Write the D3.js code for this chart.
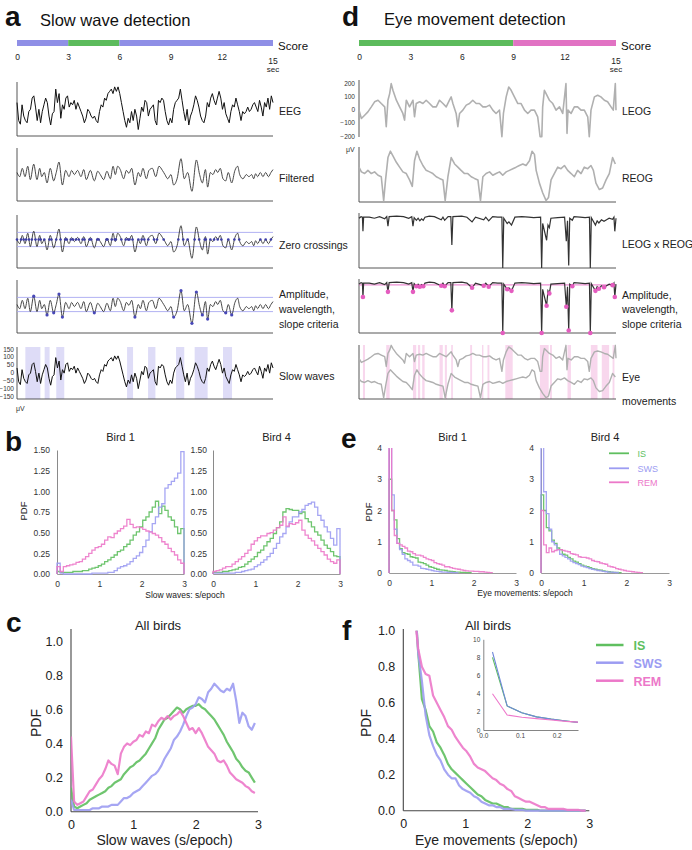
<!DOCTYPE html>
<html>
<head>
<meta charset="utf-8">
<script src="https://cdn.jsdelivr.net/npm/d3@7"></script>
<style>
  body { margin: 0; background: #fff; }
  svg text { font-family: "Liberation Sans", Arial, Helvetica, sans-serif; }
</style>
</head>
<body>
<script>
// ---------- data ----------
const timeTicks = [0, 3, 6, 9, 12, 15];
const scoreA = [{ from: 0, to: 3, stage: "SWS" }, { from: 3, to: 6, stage: "IS" }, { from: 6, to: 15, stage: "SWS" }];
const scoreD = [{ from: 0, to: 9, stage: "IS" }, { from: 9, to: 15, stage: "REM" }];

// raw EEG (uV), evenly spaced over 15 s
const eeg = [29,-59,-77,18,-37,-59,-70,-15,-4,51,62,7,-59,-4,-70,-15,18,51,29,-37,
  -81,-26,-15,95,29,73,-48,18,-4,51,62,7,29,18,40,-4,29,7,-15,-37,
  -70,-48,-4,-15,-37,-48,-37,-59,-70,-15,18,7,51,40,73,84,95,73,106,84,
  106,73,29,-15,-59,-92,-48,-70,-15,-59,-4,-37,-103,-48,7,-15,40,29,-37,-4,
  7,18,-59,-81,40,29,51,40,-15,-59,-81,-48,-70,-4,29,40,51,95,40,-15,
  -59,-4,-81,-37,-15,18,62,40,7,-37,-59,-70,-37,29,7,51,73,40,18,51,
  84,51,-4,29,-26,-48,-70,-15,18,7,51,18,-15,-59,-15,-26,-15,7,-15,-4,
  18,29,7,-15,40,7,-37,29,7,51,-4,62,29];

// filtered EEG: turning points (s, uV)
const filtT = [0.00,0.16,0.31,0.47,0.63,0.78,0.98,1.17,1.33,1.45,1.60,1.76,1.95,2.15,2.30,2.46,2.66,2.85,3.05,3.20,
  3.36,3.55,3.75,3.91,4.06,4.30,4.53,4.73,4.88,5.08,5.27,5.47,5.63,5.76,5.90,6.05,6.25,6.41,6.56,6.72,
  6.91,7.11,7.23,7.38,7.58,7.73,7.93,8.13,8.32,8.52,8.67,8.83,9.02,9.18,9.38,9.61,9.80,10.00,10.25,10.51,
  10.70,10.86,11.04,11.17,11.33,11.48,11.64,11.76,11.91,12.07,12.23,12.38,12.58,12.77,12.93,13.05,13.24,13.44,13.59,13.75,
  13.87,13.98,14.10,14.26,14.41,14.57,14.73,14.88,15.00];
const filtV = [0,-20,20,-20,30,-34,40,-34,20,-20,0,-50,20,-40,0,50,-60,10,-20,10,
  -10,10,-20,14,-34,10,-40,6,-10,-34,6,-30,30,-10,30,14,-30,10,-4,20,
  -60,0,-20,20,-30,10,20,-20,30,10,-10,-30,-10,-60,-30,66,-30,0,-90,60,
  -10,-50,14,-70,0,-10,14,0,20,-30,-40,0,-50,10,30,-10,-30,-10,-20,-10,
  -30,-6,-20,0,-20,0,-20,0,14];
const swThresh = 34;
const slowWaveBands = [[0.49,1.37],[1.62,1.91],[2.30,2.77],[6.45,6.80],[7.68,8.11],[9.32,9.80],[10.41,11.17],[12.07,12.60]];

// EOG traces (s, uV)
const leogT = [0.00,0.14,0.33,0.52,0.72,0.91,1.11,1.30,1.50,1.59,1.69,1.79,1.88,1.98,2.18,2.37,2.56,2.66,2.76,2.95,
  3.15,3.24,3.34,3.54,3.73,3.92,4.12,4.31,4.51,4.70,4.90,5.09,5.28,5.38,5.48,5.67,5.77,5.87,6.06,6.26,
  6.45,6.64,6.84,7.03,7.23,7.42,7.62,7.81,8.00,8.20,8.34,8.43,8.59,8.74,8.88,9.07,9.27,9.46,9.66,9.85,
  10.04,10.24,10.43,10.57,10.67,10.72,10.82,10.92,11.11,11.31,11.50,11.70,11.89,12.08,12.14,12.20,12.38,12.57,12.76,12.96,
  13.15,13.35,13.44,13.54,13.74,13.93,14.12,14.32,14.51,14.71,14.84,14.96,15.00];
const leogV = [-5,-68,-43,-18,20,58,70,45,20,-130,70,120,195,145,70,20,-30,-80,70,20,
  70,-55,45,58,45,70,45,20,20,70,45,20,70,95,45,-30,-130,-30,-5,33,
  45,70,45,45,20,20,33,-5,-30,-5,-205,-30,95,170,145,95,45,45,-5,-30,
  -5,-5,-55,-205,-205,20,145,120,70,45,-5,20,-30,195,-180,-5,-30,20,20,-5,
  -5,-55,-205,-5,95,108,95,70,58,20,-5,195,-5];
const reogT = [0.00,0.14,0.33,0.52,0.72,0.91,1.11,1.30,1.44,1.55,1.69,1.83,1.98,2.18,2.37,2.56,2.76,2.95,3.11,3.24,
  3.38,3.54,3.73,3.92,4.12,4.31,4.51,4.70,4.90,5.03,5.19,5.38,5.58,5.77,5.96,6.16,6.35,6.55,6.74,6.94,
  7.09,7.23,7.42,7.62,7.81,8.00,8.20,8.39,8.59,8.78,8.98,9.17,9.36,9.56,9.75,9.95,10.10,10.24,10.34,10.53,
  10.72,10.92,11.06,11.21,11.40,11.60,11.79,11.99,12.18,12.38,12.57,12.76,12.96,13.15,13.35,13.54,13.68,13.83,14.03,14.22,
  14.42,14.61,14.80,14.96];
const reogV = [50,13,0,25,0,13,-13,-25,-212,-50,125,175,138,88,50,13,0,-50,-100,100,
  175,113,63,25,13,0,-25,-38,-50,-212,-25,125,75,50,25,0,0,-25,-38,-50,
  -212,-25,0,13,-13,0,13,-13,13,25,38,50,63,75,63,100,175,150,25,-75,
  -150,-212,-188,-50,0,50,38,63,25,0,-25,25,0,50,38,63,25,-75,-125,-113,
  -50,0,125,75];
// LEOG x REOG (normalised, 0 = no co-deflection)
const prodT = [0.00,0.12,0.20,0.23,0.27,0.60,0.90,1.20,1.50,1.62,1.69,1.76,2.20,2.60,2.90,3.08,3.15,3.22,3.35,3.45,
  3.55,3.65,3.75,3.85,4.10,4.40,4.80,4.90,5.00,5.20,5.36,5.42,5.48,6.00,6.30,6.60,6.80,7.28,7.40,7.57,
  7.80,8.10,8.34,8.39,8.45,8.65,8.75,8.90,9.10,9.50,9.90,10.20,10.60,10.66,10.72,10.95,11.03,11.11,11.20,11.60,
  12.00,12.10,12.17,12.24,12.30,12.45,12.55,12.90,13.20,13.45,13.50,13.56,13.80,13.90,14.00,14.15,14.30,14.45,14.60,14.80,
  14.88,14.93,15.00];
const prodV = [-0.05,-0.02,-0.03,-0.30,-0.03,-0.03,-0.05,-0.02,-0.06,-0.02,-0.20,-0.02,-0.01,-0.02,-0.05,-0.02,-0.20,-0.04,-0.09,-0.05,
  -0.10,-0.06,-0.09,-0.03,-0.01,-0.02,-0.08,-0.03,-0.09,-0.02,-0.02,-0.56,-0.02,-0.01,-0.03,-0.12,-0.03,-0.08,-0.03,-0.10,
  -0.02,-0.03,-0.03,-1.00,-0.05,-0.15,-0.12,-0.18,-0.03,-0.02,-0.03,-0.04,-0.03,-1.00,-0.15,-0.47,-0.18,-0.23,-0.05,-0.04,
  -0.03,-0.49,-0.10,-0.95,-0.05,-0.09,-0.02,-0.03,-0.04,-0.03,-1.00,-0.04,-0.18,-0.10,-0.14,-0.08,-0.11,-0.08,-0.05,-0.07,
  -0.03,-0.30,-0.05];
const emThresh = -0.065;
const eyeMoveBands = [[0.23,0.35],[1.59,1.79],[3.15,3.34],[3.44,3.57],[3.69,3.83],[4.70,4.89],[5.01,5.13],[5.38,5.48],
  [6.49,6.60],[7.18,7.26],[7.50,7.61],[8.54,8.97],[10.56,11.07],[11.15,11.26],[12.17,12.37],[13.53,13.92],[14.17,14.60],[14.80,14.91]];

// b: slow waves per epoch histograms, 40 bins of 0.075
const swBinW = 0.075;
const b1IS = [0.03,0.02,0.02,0.02,0.02,0.03,0.03,0.03,0.04,0.04,0.06,0.07,0.08,0.10,0.12,0.15,0.17,0.20,0.23,0.27,
  0.29,0.33,0.36,0.41,0.47,0.51,0.57,0.65,0.69,0.75,0.81,0.88,0.73,0.82,0.77,0.69,0.65,0.57,0.49,0.55];
const b1SWS = [0.13,0.01,0.00,0.00,0.00,0.00,0.00,0.00,0.00,0.00,0.00,0.01,0.01,0.01,0.01,0.01,0.02,0.02,0.04,0.07,
  0.09,0.10,0.12,0.15,0.19,0.22,0.26,0.33,0.41,0.51,0.61,0.69,0.81,0.85,1.04,1.08,1.12,1.16,1.22,1.48];
const b1REM = [0.09,0.03,0.09,0.10,0.11,0.12,0.14,0.15,0.18,0.21,0.25,0.29,0.32,0.33,0.36,0.41,0.45,0.44,0.49,0.52,
  0.55,0.58,0.66,0.60,0.56,0.57,0.56,0.54,0.52,0.51,0.49,0.47,0.44,0.39,0.36,0.31,0.27,0.23,0.17,0.13];
const b4IS = [0.02,0.02,0.02,0.03,0.03,0.04,0.05,0.06,0.08,0.09,0.12,0.15,0.18,0.21,0.26,0.29,0.34,0.39,0.43,0.49,
  0.56,0.63,0.75,0.79,0.78,0.77,0.77,0.73,0.75,0.67,0.63,0.57,0.51,0.47,0.41,0.35,0.31,0.27,0.22,0.21];
const b4SWS = [0.01,0.01,0.01,0.01,0.01,0.01,0.01,0.02,0.02,0.03,0.04,0.05,0.06,0.09,0.11,0.14,0.17,0.21,0.25,0.31,
  0.37,0.45,0.49,0.57,0.63,0.69,0.69,0.75,0.78,0.83,0.85,0.87,0.81,0.71,0.65,0.57,0.51,0.43,0.35,0.55];
const b4REM = [0.03,0.04,0.05,0.07,0.09,0.09,0.12,0.15,0.18,0.21,0.25,0.29,0.36,0.40,0.44,0.46,0.46,0.49,0.50,0.53,
  0.56,0.59,0.69,0.58,0.61,0.60,0.62,0.65,0.53,0.47,0.43,0.40,0.35,0.31,0.27,0.23,0.18,0.15,0.13,0.17];

// e: eye movements per epoch histograms, bins of 0.0625
const emBinW = 0.0625;
const e1IS = [3.0,2.0,1.7,1.1,0.78,0.65,0.62,0.6,0.52,0.5,0.48,0.35,0.33,0.3,0.25,0.2,0.18,0.15,0.12,0.1,
  0.09,0.08,0.06,0.05,0.04,0.03,0.03,0.02,0.02,0.01,0.01];
const e1SWS = [4.5,2.5,1.4,0.95,0.75,0.6,0.45,0.4,0.35,0.25,0.25,0.22,0.15,0.14,0.12,0.1,0.08,0.06,0.05,0.04,
  0.03,0.03,0.02,0.02,0.01,0.01];
const e1REM = [4.5,2.0,1.2,0.95,0.9,0.85,0.8,0.7,0.68,0.62,0.57,0.57,0.55,0.5,0.45,0.43,0.4,0.33,0.3,0.28,
  0.25,0.2,0.2,0.17,0.15,0.13,0.12,0.1,0.08,0.07,0.06,0.06,0.05,0.05,0.04,0.04,0.03,0.02,0.01];
const e4IS = [2.5,2.0,1.45,1.35,1.05,0.95,0.8,0.75,0.6,0.57,0.5,0.45,0.38,0.35,0.3,0.25,0.22,0.2,0.17,0.14,
  0.12,0.1,0.09,0.07,0.05,0.04,0.03,0.02,0.02,0.01];
const e4SWS = [4.5,2.6,1.9,1.4,1.0,0.9,0.75,0.6,0.55,0.5,0.45,0.38,0.33,0.3,0.27,0.22,0.2,0.17,0.14,0.12,
  0.1,0.08,0.07,0.05,0.04,0.03,0.03,0.02,0.01];
const e4REM = [2.0,0.9,0.65,0.8,0.68,0.72,0.75,0.75,0.72,0.7,0.68,0.62,0.6,0.58,0.52,0.5,0.5,0.48,0.45,0.4,
  0.37,0.36,0.32,0.3,0.28,0.22,0.2,0.18,0.14,0.12,0.1,0.08,0.06,0.05,0.04,0.03,0.02,0.01];

// c: all birds, slow waves, x = 0, 0.05, ...
const cStart = 0, cStep = 0.05;
const cIS = [0.14,0.03,0.02,0.03,0.04,0.05,0.07,0.08,0.09,0.10,0.11,0.12,0.14,0.15,0.17,0.18,0.19,0.22,0.24,0.26,
  0.27,0.29,0.30,0.32,0.34,0.37,0.40,0.43,0.48,0.51,0.54,0.55,0.57,0.59,0.61,0.60,0.58,0.60,0.61,0.62,
  0.62,0.63,0.61,0.60,0.58,0.56,0.54,0.51,0.48,0.45,0.41,0.38,0.35,0.31,0.29,0.26,0.24,0.23,0.20,0.17];
const cSWS = [0.07,0.01,0.01,0.01,0.01,0.01,0.01,0.02,0.02,0.02,0.03,0.03,0.03,0.04,0.04,0.04,0.06,0.08,0.08,0.09,
  0.11,0.12,0.13,0.15,0.17,0.19,0.21,0.22,0.24,0.27,0.31,0.34,0.37,0.42,0.44,0.47,0.51,0.56,0.60,0.61,
  0.63,0.67,0.66,0.64,0.70,0.72,0.75,0.73,0.71,0.70,0.72,0.71,0.75,0.65,0.52,0.58,0.56,0.50,0.48,0.52];
const cREM = [0.44,0.06,0.04,0.05,0.06,0.09,0.12,0.13,0.16,0.19,0.21,0.25,0.30,0.28,0.27,0.22,0.34,0.38,0.40,0.39,
  0.41,0.42,0.45,0.44,0.47,0.46,0.51,0.50,0.53,0.55,0.54,0.56,0.54,0.56,0.57,0.59,0.56,0.52,0.48,0.49,
  0.46,0.49,0.46,0.42,0.38,0.36,0.34,0.30,0.29,0.30,0.27,0.23,0.21,0.19,0.18,0.17,0.15,0.14,0.12,0.11];

// f: all birds, eye movements, x = 0.18, 0.24, ...
const fStart = 0.18, fStep = 0.06;
const fIS = [1.2,0.88,0.62,0.56,0.47,0.44,0.38,0.35,0.31,0.26,0.23,0.21,0.19,0.17,0.15,0.13,0.11,0.09,0.08,0.06,
  0.05,0.04,0.04,0.03,0.02,0.02,0.01,0.01,0.01,0.01,0.005,0.005,0.005,0.005,0,0,0,0,0,0,0,0,0,0,0,0,0];
const fSWS = [1.2,0.88,0.72,0.53,0.42,0.36,0.31,0.28,0.23,0.20,0.18,0.18,0.14,0.12,0.11,0.10,0.08,0.07,0.05,0.04,
  0.03,0.03,0.02,0.02,0.01,0.01,0.01,0.005,0.005,0.005,0,0,0,0,0,0,0,0,0,0,0,0,0,0,0,0,0];
const fREM = [1.1,0.90,0.80,0.76,0.75,0.64,0.60,0.56,0.52,0.47,0.45,0.41,0.38,0.35,0.33,0.30,0.26,0.24,0.23,0.22,
  0.20,0.18,0.17,0.15,0.14,0.12,0.11,0.08,0.07,0.06,0.05,0.05,0.04,0.03,0.02,0.02,0.01,0.01,0.01,0.01,
  0.01,0.005,0.005,0.005,0.005,0,0];
// f inset, first bins
const insetX = [0.025,0.065,0.105,0.145,0.185,0.225,0.265];
const insetIS = [8.0,2.65,1.9,1.45,1.2,1.0,0.8];
const insetSWS = [8.6,2.65,1.9,1.45,1.2,1.0,0.8];
const insetREM = [4.0,1.65,1.4,1.25,1.1,0.95,0.85];

const stages = ["IS", "SWS", "REM"];

// ---------- drawing ----------
const colors = { IS: "#5fbf5f", SWS: "#9c9cf2", REM: "#ec78c9" };
const scoreColors = { IS: "#5cbb5c", SWS: "#8f8fe6", REM: "#e172c3" };

const svg = d3.select("body").append("svg").attr("width", 692).attr("height", 850);

function addText(x, y, s, size, anchor = "start", weight = "normal", fill = "#111") {
  return svg.append("text").attr("x", x).attr("y", y).attr("font-size", size)
    .attr("text-anchor", anchor).attr("font-weight", weight).attr("fill", fill).text(s);
}

// panel letters and titles
addText(5, 26, "a", 28, "start", "bold");
addText(40, 26, "Slow wave detection", 16.5);
addText(342, 26, "d", 28, "start", "bold");
addText(384, 25, "Eye movement detection", 16.5);
addText(5, 451, "b", 28, "start", "bold");
addText(341, 448, "e", 28, "start", "bold");
addText(6, 632, "c", 28, "start", "bold");
addText(342, 640, "f", 28, "start", "bold");

const aX = d3.scaleLinear().domain([0, 15]).range([17, 273]);
const dX = d3.scaleLinear().domain([0, 15]).range([359, 616]);

function scoreBar(x, segs) {
  svg.append("g").selectAll("rect").data(segs).join("rect")
    .attr("x", d => x(d.from)).attr("width", d => x(d.to) - x(d.from))
    .attr("y", 40).attr("height", 6).attr("fill", d => scoreColors[d.stage]);
  addText(x.range()[1] + 5, 49.5, "Score", 11.5);
  const ax = svg.append("g").attr("transform", "translate(0,50.5)")
    .call(d3.axisBottom(x).tickValues(timeTicks.filter(t => t < 15)).tickSize(0).tickPadding(3));
  ax.select(".domain").remove();
  ax.selectAll("text").attr("font-size", 8.5).attr("fill", "#222");
  addText(x(15), 64, "15", 8.5, "middle", "normal", "#222");
  addText(x(15), 71.5, "sec", 8, "middle", "normal", "#222");
}
scoreBar(aX, scoreA);
scoreBar(dX, scoreD);

function frame(x, top, bottom, withBottom = true) {
  const [x0, x1] = x.range();
  svg.append("line").attr("x1", x0).attr("x2", x0).attr("y1", top).attr("y2", bottom)
    .attr("stroke", "#444").attr("stroke-width", 0.9);
  if (withBottom) svg.append("line").attr("x1", x0).attr("x2", x1).attr("y1", bottom).attr("y2", bottom)
    .attr("stroke", "#444").attr("stroke-width", 0.9);
}
function sideLabel(x, baselines, lines) {
  lines.forEach((s, i) => addText(x, baselines[i], s, 10.5, "start", "normal", "#222"));
}
function bands(x, list, top, bottom, fill) {
  svg.append("g").selectAll("rect").data(list).join("rect")
    .attr("x", d => x(d[0])).attr("width", d => x(d[1]) - x(d[0]))
    .attr("y", top).attr("height", bottom - top).attr("fill", fill);
}

// ---- panel a ----
const eegPts = eeg.map((v, i) => [i * 15 / (eeg.length - 1), v]);
const filtPts = filtT.map((t, i) => [t, filtV[i]]);

// EEG
const yEEG = d3.scaleLinear().domain([-125, 125]).range([134, 83]);
frame(aX, 82, 136);
svg.append("path").attr("d", d3.line().x(d => aX(d[0])).y(d => yEEG(d[1]))(eegPts))
  .attr("fill", "none").attr("stroke", "#111").attr("stroke-width", 1);
sideLabel(279, [115], ["EEG"]);

// filtered panels
function filtPanel(top, bottom) {
  const mid = (top + bottom) / 2 - 2;
  const y = d3.scaleLinear().domain([-80, 80]).range([mid + 16.7, mid - 16.7]);
  frame(aX, top, bottom);
  return y;
}
const filtLine = y => d3.line().x(d => aX(d[0])).y(d => y(d[1])).curve(d3.curveMonotoneX);

const yF1 = filtPanel(148, 201);
svg.append("path").attr("d", filtLine(yF1)(filtPts)).attr("fill", "none").attr("stroke", "#333").attr("stroke-width", 0.9);
sideLabel(279, [181.5], ["Filtered"]);

function threshLines(y) {
  [swThresh, -swThresh].forEach(v => svg.append("line").attr("x1", aX(0)).attr("x2", aX(15))
    .attr("y1", y(v)).attr("y2", y(v)).attr("stroke", "#a9a9f0").attr("stroke-width", 0.9));
}

const yF2 = filtPanel(215, 268);
threshLines(yF2);
svg.append("path").attr("d", filtLine(yF2)(filtPts)).attr("fill", "none").attr("stroke", "#333").attr("stroke-width", 0.9);
const zeroX = [];
for (let i = 0; i < filtPts.length - 1; i++) {
  const [t0, v0] = filtPts[i], [t1, v1] = filtPts[i + 1];
  if (v0 === 0) zeroX.push(t0);
  else if (v0 * v1 < 0) zeroX.push(t0 + (t1 - t0) * v0 / (v0 - v1));
}
svg.append("g").selectAll("circle").data(zeroX).join("circle")
  .attr("cx", d => aX(d)).attr("cy", yF2(0)).attr("r", 1.3).attr("fill", "#3d3da8");
sideLabel(279, [248.5], ["Zero crossings"]);

const yF3 = filtPanel(280, 333);
threshLines(yF3);
svg.append("path").attr("d", filtLine(yF3)(filtPts)).attr("fill", "none").attr("stroke", "#333").attr("stroke-width", 0.9);
const ampDots = filtPts.filter(d => Math.abs(d[1]) >= swThresh + 6);
svg.append("g").selectAll("circle").data(ampDots).join("circle")
  .attr("cx", d => aX(d[0])).attr("cy", d => yF3(d[1])).attr("r", 1.6).attr("fill", "#4848b8");
sideLabel(279, [298, 313, 328], ["Amplitude,", "wavelength,", "slope criteria"]);

// slow waves
const ySW = d3.scaleLinear().domain([-150, 150]).range([396, 349]);
bands(aX, slowWaveBands, 347, 399, "#dedcf7");
frame(aX, 347, 399);
svg.append("path").attr("d", d3.line().x(d => aX(d[0])).y(d => ySW(d[1]))(eegPts))
  .attr("fill", "none").attr("stroke", "#111").attr("stroke-width", 1);
const swAx = svg.append("g").attr("transform", "translate(17,0)")
  .call(d3.axisLeft(ySW).tickValues([-150, -100, -50, 0, 50, 100, 150]).tickSize(0).tickPadding(3));
swAx.select(".domain").remove();
swAx.selectAll("text").attr("font-size", 6.5).attr("fill", "#333");
addText(16, 411, "μV", 7, "start", "normal", "#333");
sideLabel(279, [380], ["Slow waves"]);

// ---- panel d ----
const leogPts = leogT.map((t, i) => [t, leogV[i]]);
const reogPts = reogT.map((t, i) => [t, reogV[i]]);
const prodPts = prodT.map((t, i) => [t, prodV[i]]);
const grayTrace = "#b0b0b0";

const yL = d3.scaleLinear().domain([-200, 200]).range([136, 83]);
frame(dX, 80, 137, false);
svg.append("path").attr("d", d3.line().x(d => dX(d[0])).y(d => yL(d[1]))(leogPts))
  .attr("fill", "none").attr("stroke", grayTrace).attr("stroke-width", 1.6).attr("stroke-linejoin", "round");
const lAx = svg.append("g").attr("transform", "translate(359,0)")
  .call(d3.axisLeft(yL).tickValues([-200, -100, 0, 100, 200]).tickSize(0).tickPadding(4));
lAx.select(".domain").remove();
lAx.selectAll("text").attr("font-size", 6.5).attr("fill", "#333");
addText(346, 152, "μV", 7, "start", "normal", "#333");
sideLabel(622, [115], ["LEOG"]);

const yR = d3.scaleLinear().domain([-215, 200]).range([201, 148]);
frame(dX, 147, 202);
svg.append("path").attr("d", d3.line().x(d => dX(d[0])).y(d => yR(d[1]))(reogPts))
  .attr("fill", "none").attr("stroke", grayTrace).attr("stroke-width", 1.6).attr("stroke-linejoin", "round");
sideLabel(622, [182], ["REOG"]);

const yP = d3.scaleLinear().domain([-1, 0.05]).range([268, 213]);
frame(dX, 213, 268);
svg.append("path").attr("d", d3.line().x(d => dX(d[0])).y(d => yP(d[1]))(prodPts))
  .attr("fill", "none").attr("stroke", "#333").attr("stroke-width", 1.2);
sideLabel(622, [248], ["LEOG x REOG"]);

const yP2 = d3.scaleLinear().domain([-1, 0.05]).range([333, 279]);
frame(dX, 279, 333);
svg.append("line").attr("x1", dX(0)).attr("x2", dX(15)).attr("y1", yP2(emThresh)).attr("y2", yP2(emThresh))
  .attr("stroke", "#e562c2").attr("stroke-width", 0.9);
svg.append("path").attr("d", d3.line().x(d => dX(d[0])).y(d => yP2(d[1]))(prodPts))
  .attr("fill", "none").attr("stroke", "#333").attr("stroke-width", 1.2);
const emDots = prodPts.filter((p, i) => i > 0 && i < prodPts.length - 1 && p[1] < emThresh &&
  p[1] < prodPts[i - 1][1] && p[1] < prodPts[i + 1][1]);
svg.append("g").selectAll("circle").data(emDots).join("circle")
  .attr("cx", d => dX(d[0])).attr("cy", d => yP2(d[1])).attr("r", 2.3).attr("fill", "#e45cbf");
sideLabel(622, [299, 313, 328], ["Amplitude,", "wavelength,", "slope criteria"]);

bands(dX, eyeMoveBands, 345, 399, "#f8d7ed");
frame(dX, 345, 399);
const yEL = d3.scaleLinear().domain([-200, 200]).range([371, 345]);
const yER = d3.scaleLinear().domain([-215, 200]).range([398, 368]);
svg.append("path").attr("d", d3.line().x(d => dX(d[0])).y(d => yEL(d[1]))(leogPts))
  .attr("fill", "none").attr("stroke", grayTrace).attr("stroke-width", 1.4).attr("stroke-linejoin", "round");
svg.append("path").attr("d", d3.line().x(d => dX(d[0])).y(d => yER(d[1]))(reogPts))
  .attr("fill", "none").attr("stroke", grayTrace).attr("stroke-width", 1.4).attr("stroke-linejoin", "round");
sideLabel(622, [381, 405], ["Eye", "movements"]);

// ---- histogram panels b / e ----
let clipCount = 0;
function clipRect(x, y, w, h) {
  const id = "clip" + (clipCount++);
  svg.append("clipPath").attr("id", id).append("rect").attr("x", x).attr("y", y).attr("width", w).attr("height", h);
  return `url(#${id})`;
}
function stepPoints(vals, w) {
  const pts = [[0, 0]];
  vals.forEach((v, i) => { pts.push([i * w, v], [(i + 1) * w, v]); });
  pts.push([vals.length * w, 0]);
  return pts;
}
function histPanel(cfg) {
  const x = d3.scaleLinear().domain([0, 3]).range([cfg.x0, cfg.x1]);
  const y = d3.scaleLinear().domain([0, cfg.yMax]).range([cfg.y0, cfg.y1]);
  const gy = svg.append("g").attr("transform", `translate(${cfg.x0},0)`)
    .call(d3.axisLeft(y).tickValues(cfg.yTicks).tickFormat(cfg.fmt).tickSize(0).tickSizeOuter(0).tickPadding(cfg.yPad));
  gy.select(".domain").attr("stroke", "#8a8a8a").attr("stroke-width", 1);
  gy.selectAll("text").attr("font-size", 8.5).attr("fill", "#333");
  const gx = svg.append("g").attr("transform", `translate(0,${cfg.y0})`)
    .call(d3.axisBottom(x).tickValues([0, 1, 2, 3]).tickFormat(d3.format("d")).tickSize(0).tickSizeOuter(0).tickPadding(6.5));
  gx.select(".domain").attr("stroke", "#9a9a9a").attr("stroke-width", 1);
  gx.selectAll("text").attr("font-size", 8.5).attr("fill", "#333");
  const line = d3.line().x(d => x(d[0])).y(d => y(d[1]));
  const g = svg.append("g").attr("clip-path", clipRect(cfg.x0 - 2, cfg.y1, cfg.x1 - cfg.x0 + 4, cfg.y0 - cfg.y1 + 2));
  cfg.series.forEach((vals, i) => g.append("path").attr("d", line(stepPoints(vals, cfg.binW)))
    .attr("fill", "none").attr("stroke", colors[stages[i]]).attr("stroke-width", 1.3).attr("stroke-opacity", 0.9));
  addText((cfg.x0 + cfg.x1) / 2, 440.5, cfg.title, 11, "middle", "normal", "#222");
}
const bTicks = [0, 0.25, 0.5, 0.75, 1, 1.25, 1.5];
histPanel({ x0: 57, x1: 184, y0: 574, y1: 450, yMax: 1.5, yTicks: bTicks, fmt: d3.format(".2f"), yPad: 7,
  binW: swBinW, series: [b1IS, b1SWS, b1REM], title: "Bird 1" });
histPanel({ x0: 213, x1: 340, y0: 574, y1: 450, yMax: 1.5, yTicks: bTicks, fmt: d3.format(".2f"), yPad: 6,
  binW: swBinW, series: [b4IS, b4SWS, b4REM], title: "Bird 4" });
addText(185, 598, "Slow waves: s/epoch", 8.5, "middle", "normal", "#222");
svg.append("text").attr("transform", "translate(27,511) rotate(-90)").attr("text-anchor", "middle")
  .attr("font-size", 9.5).attr("fill", "#222").text("PDF");

const eTicks = [0, 1, 2, 3, 4];
histPanel({ x0: 389, x1: 516, y0: 573, y1: 448, yMax: 4, yTicks: eTicks, fmt: d3.format("d"), yPad: 7,
  binW: emBinW, series: [e1IS, e1SWS, e1REM], title: "Bird 1" });
histPanel({ x0: 541, x1: 669, y0: 573, y1: 448, yMax: 4, yTicks: eTicks, fmt: d3.format("d"), yPad: 7,
  binW: emBinW, series: [e4IS, e4SWS, e4REM], title: "Bird 4" });
addText(525, 595.5, "Eye movements: s/epoch", 8.5, "middle", "normal", "#222");
svg.append("text").attr("transform", "translate(372,512) rotate(-90)").attr("text-anchor", "middle")
  .attr("font-size", 9.5).attr("fill", "#222").text("PDF");
// legend e
stages.forEach((s, i) => {
  const yy = [453.3, 468.3, 482.3][i];
  svg.append("line").attr("x1", 609).attr("x2", 629).attr("y1", yy).attr("y2", yy)
    .attr("stroke", colors[s]).attr("stroke-width", 1.8);
  addText(637.5, yy + 3.3, s, 9, "start", "normal", colors[s]);
});

// ---- all-birds panels c / f ----
function allPanel(cfg) {
  const x = d3.scaleLinear().domain([0, 3]).range([cfg.x0, cfg.x1]);
  const y = d3.scaleLinear().domain([0, 1]).range([cfg.y0, cfg.y1]);
  svg.append("line").attr("x1", cfg.x0).attr("x2", cfg.x0).attr("y1", 629).attr("y2", cfg.y0)
    .attr("stroke", "#444").attr("stroke-width", 1.1);
  svg.append("line").attr("x1", cfg.x0).attr("x2", cfg.x1).attr("y1", cfg.y0).attr("y2", cfg.y0)
    .attr("stroke", "#444").attr("stroke-width", 1.1);
  const gy = svg.append("g").attr("transform", `translate(${cfg.x0},0)`)
    .call(d3.axisLeft(y).tickValues([0, 0.2, 0.4, 0.6, 0.8, 1]).tickFormat(d3.format(".1f")).tickSize(0).tickPadding(8));
  gy.select(".domain").remove();
  gy.selectAll("text").attr("font-size", 12.5).attr("fill", "#222");
  const gx = svg.append("g").attr("transform", `translate(0,${cfg.y0})`)
    .call(d3.axisBottom(x).tickValues([0, 1, 2, 3]).tickFormat(d3.format("d")).tickSize(0).tickPadding(8.5));
  gx.select(".domain").remove();
  gx.selectAll("text").attr("font-size", 12.5).attr("fill", "#222");
  const line = d3.line().x((d, i) => x(cfg.start + cfg.step * i)).y(d => y(d));
  const g = svg.append("g").attr("clip-path", clipRect(cfg.x0, cfg.y1, cfg.x1 - cfg.x0 + 4, cfg.y0 - cfg.y1 + 2));
  cfg.series.forEach((vals, i) => g.append("path").attr("d", line(vals))
    .attr("fill", "none").attr("stroke", colors[stages[i]]).attr("stroke-width", 2.2)
    .attr("stroke-opacity", 0.9).attr("stroke-linejoin", "round"));
  addText(cfg.titleX, 630, "All birds", 13, "middle", "normal", "#222");
  addText((cfg.x0 + cfg.x1) / 2, 845, cfg.xLabel, 14, "middle", "normal", "#222");
  svg.append("text").attr("transform", `translate(${cfg.pdfX},723) rotate(-90)`).attr("text-anchor", "middle")
    .attr("font-size", 14).attr("fill", "#222").text("PDF");
  return { x, y };
}
allPanel({ x0: 71, x1: 258, y0: 811.7, y1: 641, start: cStart, step: cStep, series: [cIS, cSWS, cREM],
  titleX: 158, xLabel: "Slow waves (s/epoch)", pdfX: 41 });
allPanel({ x0: 403.3, x1: 589.3, y0: 810.7, y1: 630.7, start: fStart, step: fStep, series: [fIS, fSWS, fREM],
  titleX: 488, xLabel: "Eye movements (s/epoch)", pdfX: 371 });

// inset
const ix = d3.scaleLinear().domain([0, 0.258]).range([483.3, 578]);
const iy = d3.scaleLinear().domain([0, 10]).range([730, 639.3]);
const insAxY = svg.append("g").attr("transform", "translate(483.3,0)")
  .call(d3.axisLeft(iy).tickValues([0, 2, 4, 6, 8, 10]).tickSize(0).tickSizeOuter(0).tickPadding(3));
insAxY.select(".domain").attr("stroke", "#666").attr("stroke-width", 0.8);
insAxY.selectAll("text").attr("font-size", 6.5).attr("fill", "#444");
const insAxX = svg.append("g").attr("transform", "translate(0,730)")
  .call(d3.axisBottom(ix).tickValues([0, 0.1, 0.2]).tickFormat(d3.format(".1f")).tickSize(0).tickSizeOuter(0).tickPadding(3));
insAxX.select(".domain").attr("stroke", "#666").attr("stroke-width", 0.8);
insAxX.selectAll("text").attr("font-size", 6.5).attr("fill", "#444");
const insetClip = clipRect(483.3, 635, 578 - 483.3, 96);
const insetColors = { IS: "#5fbf5f", SWS: "#6f87da", REM: "#ee78cb" };
const insLine = d3.line().x((d, i) => ix(insetX[i])).y(d => iy(d));
const ig = svg.append("g").attr("clip-path", insetClip);
[insetIS, insetSWS, insetREM].forEach((vals, i) => ig.append("path").attr("d", insLine(vals))
  .attr("fill", "none").attr("stroke", insetColors[stages[i]]).attr("stroke-width", 1.1));

// legend f
stages.forEach((s, i) => {
  const yy = [645, 662.7, 680.7][i];
  svg.append("line").attr("x1", 596).attr("x2", 623.5).attr("y1", yy).attr("y2", yy)
    .attr("stroke", colors[s]).attr("stroke-width", 2.5);
  addText(633.5, yy + 4.8, s, 12.5, "start", "bold", colors[s]);
});
</script>
</body>
</html>
